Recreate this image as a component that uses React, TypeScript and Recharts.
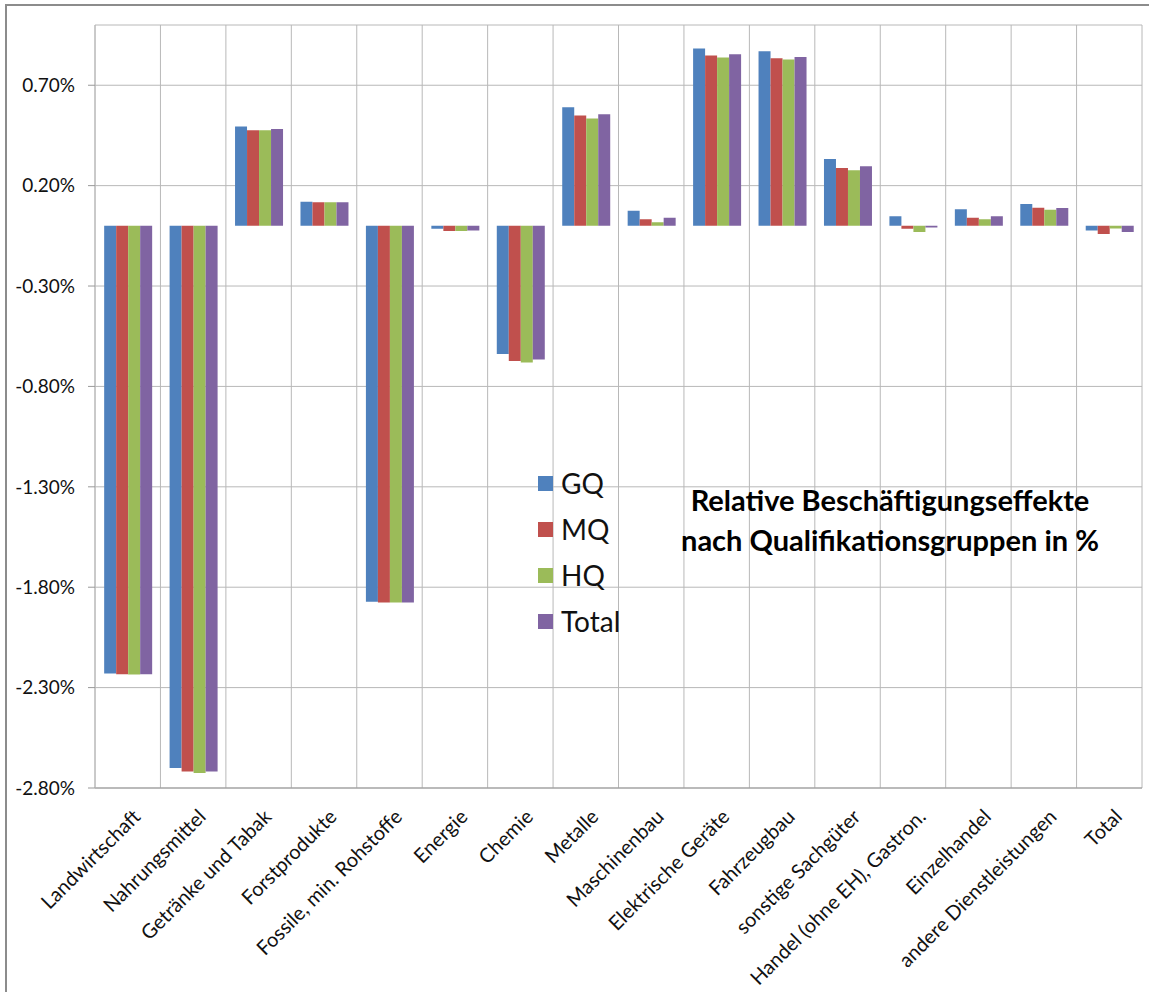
import React from 'react';
import { BarChart, Bar, XAxis, YAxis, CartesianGrid, Legend } from 'recharts';

const categories = [
  'Landwirtschaft',
  'Nahrungsmittel',
  'Getränke und Tabak',
  'Forstprodukte',
  'Fossile, min. Rohstoffe',
  'Energie',
  'Chemie',
  'Metalle',
  'Maschinenbau',
  'Elektrische Geräte',
  'Fahrzeugbau',
  'sonstige Sachgüter',
  'Handel (ohne EH), Gastron.',
  'Einzelhandel',
  'andere Dienstleistungen',
  'Total',
];

const gq = [-2.23, -2.7, 0.494, 0.12, -1.872, -0.015, -0.638, 0.59, 0.075, 0.883, 0.869, 0.333, 0.048, 0.082, 0.108, -0.023];
const mq = [-2.233, -2.718, 0.476, 0.117, -1.876, -0.026, -0.674, 0.549, 0.033, 0.848, 0.834, 0.288, -0.015, 0.04, 0.09, -0.041];
const hq = [-2.235, -2.725, 0.476, 0.117, -1.876, -0.026, -0.681, 0.534, 0.018, 0.838, 0.828, 0.276, -0.031, 0.033, 0.08, -0.013];
const total = [-2.233, -2.718, 0.482, 0.117, -1.876, -0.023, -0.666, 0.555, 0.04, 0.854, 0.841, 0.296, -0.008, 0.047, 0.088, -0.031];

const yTicks = [-2.8, -2.3, -1.8, -1.3, -0.8, -0.3, 0.2, 0.7];
const yDomain = [-2.8, 1.0];

const seriesNames = ['GQ', 'MQ', 'HQ', 'Total'];
const seriesColors = ['#4F81BD', '#C0504D', '#9BBB59', '#8064A2'];

const titleLines = ['Relative Beschäftigungseffekte', 'nach Qualifikationsgruppen in %'];

const data = categories.map((c, i) => ({
  name: c,
  GQ: gq[i],
  MQ: mq[i],
  HQ: hq[i],
  Total: total[i],
}));

const FONT = 'Lato, "Open Sans", sans-serif';

const XTick = (props: any) => {
  const { x, y, payload } = props;
  return (
    <g transform={`translate(${x + 14},${y + 30})`}>
      <text textAnchor="end" transform="rotate(-45)" fontSize={20} fontFamily={FONT} fill="#111">
        {payload.value}
      </text>
    </g>
  );
};

const renderLegend = (props: any) => {
  const items = [...(props.payload || [])].sort(
    (a: any, b: any) => seriesNames.indexOf(a.value) - seriesNames.indexOf(b.value)
  );
  return (
    <div style={{ display: 'flex', flexDirection: 'column' }}>
      {items.map((p: any) => (
        <div key={p.value} style={{ display: 'flex', alignItems: 'center', height: 46 }}>
          <span style={{ display: 'inline-block', width: 15, height: 15, background: p.color, marginRight: 8 }} />
          <span style={{ fontSize: 28, fontFamily: FONT, color: '#111' }}>{p.value}</span>
        </div>
      ))}
    </div>
  );
};

export default function App() {
  const n = categories.length;
  return (
    <div style={{ position: 'absolute', left: 0, top: 0, width: 1149, height: 992, background: '#fff', overflow: 'hidden' }}>
      <div
        style={{
          position: 'absolute',
          left: 5,
          top: 4,
          width: 1144,
          height: 988,
          borderLeft: '2px solid #8c8c8c',
          borderTop: '2px solid #8c8c8c',
          boxSizing: 'border-box',
        }}
      />
      <BarChart
        width={1149}
        height={992}
        data={data}
        margin={{ top: 25, right: 7, left: 0, bottom: 0 }}
        barCategoryGap="14%"
        barGap={0}
      >
        <CartesianGrid
          stroke="#b8b8b8"
          verticalCoordinatesGenerator={({ offset }: any) =>
            Array.from({ length: n + 1 }, (_, i) => offset.left + (i * offset.width) / n)
          }
        />
        <XAxis
          dataKey="name"
          interval={0}
          height={204}
          tickSize={0}
          tickMargin={0}
          tickLine={false}
          axisLine={{ stroke: '#999' }}
          tick={<XTick />}
        />
        <YAxis
          width={95}
          domain={yDomain}
          ticks={yTicks}
          allowDataOverflow
          tickSize={7}
          tickMargin={13}
          tickLine={{ stroke: '#999' }}
          axisLine={{ stroke: '#b8b8b8' }}
          tick={{ fontSize: 19, fontFamily: FONT, fill: '#111' }}
          tickFormatter={(v: number) => `${v.toFixed(2)}%`}
        />
        <Legend
          layout="vertical"
          align="center"
          verticalAlign="middle"
          wrapperStyle={{ left: 538, top: 460, width: 130 }}
          content={renderLegend}
        />
        {seriesNames.map((s, i) => (
          <Bar key={s} dataKey={s} fill={seriesColors[i]} isAnimationActive={false} />
        ))}
      </BarChart>
      <div
        style={{
          position: 'absolute',
          left: 590,
          top: 480,
          width: 600,
          textAlign: 'center',
          fontFamily: FONT,
          fontWeight: 700,
          fontSize: 29,
          lineHeight: '40px',
          color: '#000',
        }}
      >
        {titleLines.map((t) => (
          <div key={t}>{t}</div>
        ))}
      </div>
    </div>
  );
}
